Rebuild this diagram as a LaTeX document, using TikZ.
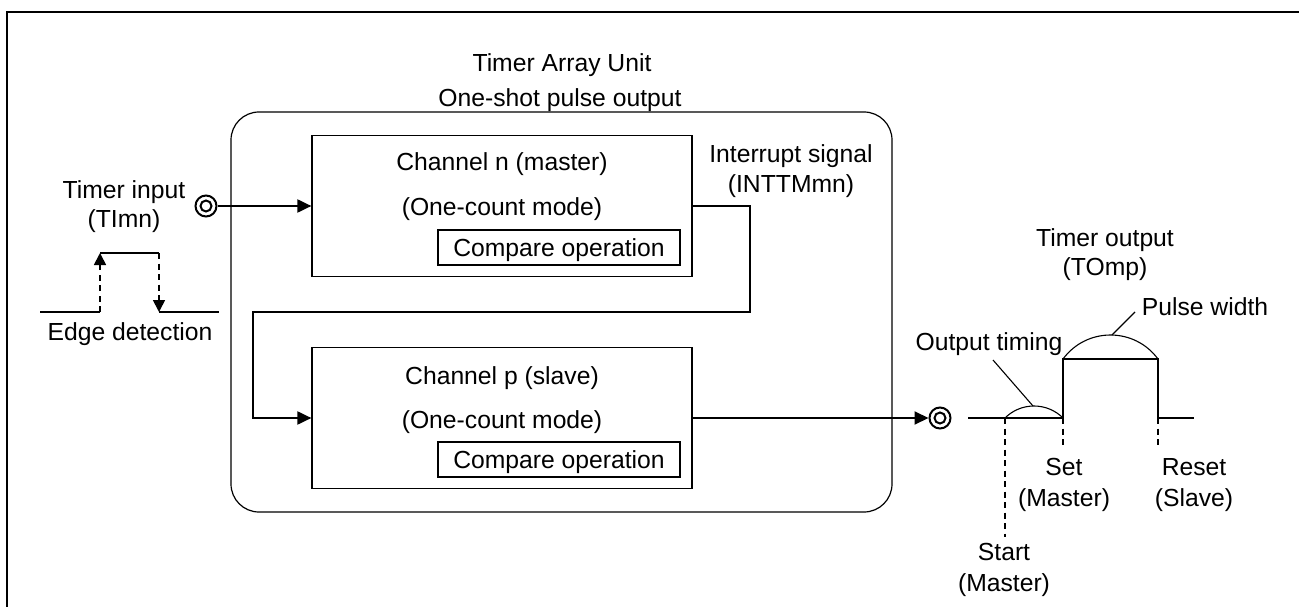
\documentclass[tikz,border=0pt]{standalone}
\usepackage{fontspec}
\setmainfont{Liberation Sans}
\usetikzlibrary{arrows.meta}

\tikzset{
  lbl/.style={inner sep=0pt, anchor=base, font=\fontsize{24.7}{30}\selectfont},
  unitbox/.style={draw, line width=1.2pt, rounded corners=28pt, minimum width=661pt, minimum height=400pt, inner sep=0pt},
  chanbox/.style={draw, line width=1.2pt, minimum width=380pt, minimum height=141pt, inner sep=0pt},
  cmpbox/.style={draw, line width=1.2pt, minimum width=242pt, minimum height=35pt, inner sep=0pt},
  conn/.style={line width=2pt, -{Triangle[length=14pt,width=13pt]}},
  wave/.style={line width=2pt},
  guide/.style={line width=1.7pt, dash pattern=on 6pt off 4.5pt},
  thinline/.style={line width=1.1pt},
  terminal/.style={circle, draw, line width=2pt, minimum size=21pt, inner sep=0pt},
  terminner/.style={circle, draw, line width=2pt, minimum size=11pt, inner sep=0pt}
}

\begin{document}
\begin{tikzpicture}[x=1pt, y=-1pt]
\useasboundingbox (0,0) rectangle (1299,607);

% frame
\draw[line width=2pt] (7,608) -- (7,12) -- (1300,12);

% titles
\node[lbl] (title) at (562,72) {Timer Array Unit};
\node[lbl] (subtitle) at (560,107) {One-shot pulse output};

% timer array unit
\node[unitbox] (tau) at (561.5,312) {};

% channel n (master)
\node[chanbox] (chn) at (502,206) {};
\node[lbl] (chnA) at (502,171) {Channel n (master)};
\node[lbl] (chnB) at (502,215) {(One-count mode)};
\node[cmpbox] (cmpn) at (559,247.5) {};
\node[lbl] (cmpnT) at (559,256) {Compare operation};

% channel p (slave)
\node[chanbox] (chp) at (502,418) {};
\node[lbl] (chpA) at (502,384) {Channel p (slave)};
\node[lbl] (chpB) at (502,428) {(One-count mode)};
\node[cmpbox] (cmpp) at (559,459.5) {};
\node[lbl] (cmppT) at (559,468) {Compare operation};

% timer input terminal
\node[terminal] (tin) at (206,206) {};
\node[terminner] (tinI) at (206,206) {};
\node[lbl] (tinA) at (124,198) {Timer input};
\node[lbl] (tinB) at (124,227) {(TImn)};
\draw[conn] (tin.east) -- (chn.west);

% interrupt signal from master to slave
\node[lbl] (intA) at (791,163) {Interrupt signal};
\node[lbl] (intB) at (791,193) {(INTTMmn)};
\coordinate (i1) at (750,312);
\coordinate (i2) at (253,312);
\draw[conn] (chn.east) -| (i1) -- (i2) |- (chp.west);

% timer output terminal
\node[terminal] (tout) at (940,418) {};
\node[terminner] (toutI) at (940,418) {};
\draw[conn] (chp.east) -- (tout.west);

% edge detection waveform
\coordinate (e0) at (40,312);
\coordinate (e1) at (100,312);
\coordinate (e2) at (100,253);
\coordinate (e3) at (159,253);
\coordinate (e4) at (159,312);
\coordinate (e5) at (219,312);
\draw[wave] (e0) -- (e1);
\draw[wave] (e2) -- (e3);
\draw[wave] (e4) -- (e5);
\draw[guide, -{Triangle[length=12pt,width=12pt]}] (e1) -- (e2);
\draw[guide, -{Triangle[length=12pt,width=12pt]}] (e3) -- (e4);
\node[lbl] (edge) at (130,340) {Edge detection};

% output pulse waveform
\coordinate (w0) at (968,418);
\coordinate (wS) at (1005,418);
\coordinate (w1) at (1063,418);
\coordinate (w2) at (1063,359);
\coordinate (w3) at (1158,359);
\coordinate (w4) at (1158,418);
\coordinate (w5) at (1194,418);
\draw[wave] (w0) -- (w1) -- (w2) -- (w3) -- (w4) -- (w5);

% timing guides
\coordinate (gS) at (1005,537);
\coordinate (gSet) at (1063,449);
\coordinate (gR) at (1158,449);
\draw[guide] (wS) -- (gS);
\draw[guide] (w1) -- (gSet);
\draw[guide] (w4) -- (gR);

% output timing and pulse width arcs
\draw[thinline] (wS) .. controls (1021,402) and (1047,402) .. (w1);
\draw[thinline] (w2) .. controls (1086.6,327) and (1134.4,327) .. (w3);
\coordinate (otPeak) at (1033,406);
\coordinate (otEnd) at (993,360);
\coordinate (pwPeak) at (1112,335);
\coordinate (pwEnd) at (1135,312);
\draw[thinline] (otPeak) -- (otEnd);
\draw[thinline] (pwPeak) -- (pwEnd);

% output labels
\node[lbl] (toA) at (1105,246) {Timer output};
\node[lbl] (toB) at (1105,275) {(TOmp)};
\node[lbl] (pw) at (1205,315) {Pulse width};
\node[lbl] (ot) at (989,350) {Output timing};
\node[lbl] (setA) at (1064,475) {Set};
\node[lbl] (setB) at (1064,506) {(Master)};
\node[lbl] (rstA) at (1194,475) {Reset};
\node[lbl] (rstB) at (1194,506) {(Slave)};
\node[lbl] (stA) at (1004,560) {Start};
\node[lbl] (stB) at (1004,591) {(Master)};
\end{tikzpicture}
\end{document}
